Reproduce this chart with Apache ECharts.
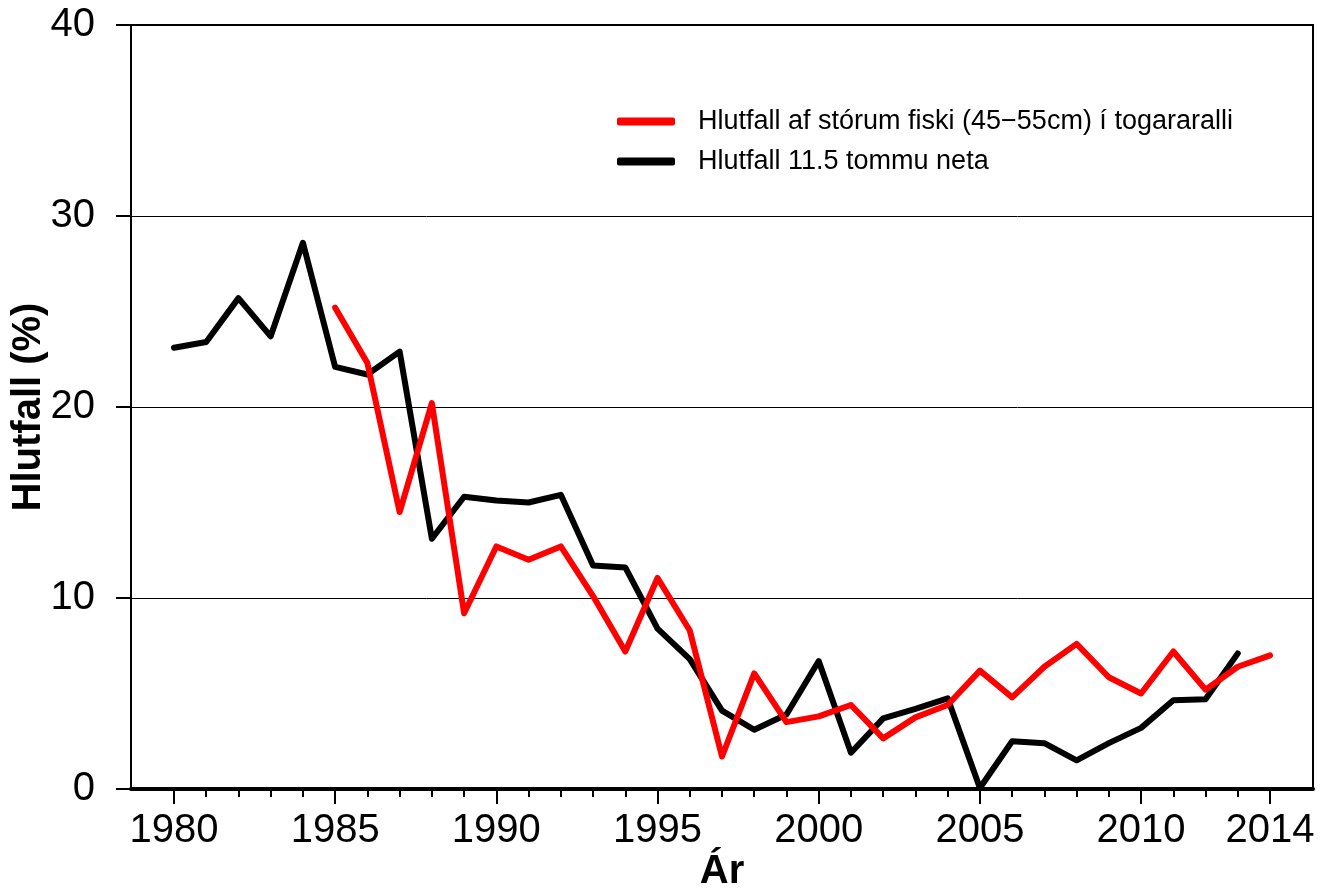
<!DOCTYPE html>
<html>
<head>
<meta charset="utf-8">
<script src="https://cdn.jsdelivr.net/npm/echarts@6/dist/echarts.min.js"></script>
<style>
html,body{margin:0;padding:0;background:#fff;}
#chart{width:1325px;height:890px;}
</style>
</head>
<body>
<div id="chart"></div>
<script>
var years = [1980,1981,1982,1983,1984,1985,1986,1987,1988,1989,1990,1991,1992,1993,1994,1995,1996,1997,1998,1999,2000,2001,2002,2003,2004,2005,2006,2007,2008,2009,2010,2011,2012,2013,2014];
var redValues = [null,null,null,null,null,25.2,22.3,14.5,20.2,9.2,12.7,12.0,12.7,10.1,7.2,11.05,8.3,1.7,6.05,3.5,3.8,4.4,2.65,3.75,4.4,6.2,4.8,6.4,7.6,5.85,5.0,7.2,5.2,6.4,7.0];
var blackValues = [23.1,23.4,25.7,23.7,28.6,22.1,21.7,22.9,13.1,15.3,15.1,15.0,15.4,11.7,11.6,8.4,6.8,4.1,3.1,3.9,6.7,1.9,3.7,4.2,4.75,0.05,2.5,2.4,1.5,2.4,3.2,4.65,4.7,7.1,null];
var majorYears = [1980,1985,1990,1995,2000,2005,2010,2014];
var yTicks = [0,10,20,30,40];
var redName = 'Hlutfall af stórum fiski (45\u221255cm) í togararalli';
var blackName = 'Hlutfall 11.5 tommu neta';

function pairs(vals){ return years.map(function(y,i){ return [y, vals[i]]; }); }

var chart = echarts.init(document.getElementById('chart'));
var font = 'Liberation Sans, Arial, Helvetica, sans-serif';
var xMin = 1978.667, xMax = 2015.333;
chart.setOption({
  animation:false,
  backgroundColor:'#fff',
  grid:{left:131,top:25,right:12,bottom:101,outerBoundsMode:'none',containLabel:false,show:true,borderColor:'#000',borderWidth:2,backgroundColor:'transparent'},
  legend:{
    orient:'vertical',left:612,top:103,itemWidth:58,itemHeight:8,itemGap:13,
    icon:'roundRect',
    textStyle:{fontFamily:font,fontSize:27,color:'#000',padding:[0,0,0,18]},
    data:[redName,blackName]
  },
  xAxis:[{
    type:'value',min:xMin,max:xMax,
    axisLine:{show:true,lineStyle:{color:'#000',width:4}},
    axisTick:{show:true,customValues:majorYears,length:15,lineStyle:{color:'#000',width:2}},
    axisLabel:{customValues:majorYears,fontFamily:font,fontSize:40,color:'#000',margin:22,formatter:function(v){return String(v);}},
    splitLine:{show:false},
    name:'Ár',nameLocation:'middle',nameGap:63,nameMoveOverlap:false,
    nameTextStyle:{fontFamily:font,fontSize:40,fontWeight:'bold',color:'#000'}
  },{
    type:'value',min:xMin,max:xMax,position:'bottom',
    axisLine:{show:false},
    axisTick:{show:true,customValues:years,length:8,lineStyle:{color:'#000',width:2}},
    axisLabel:{show:false},
    splitLine:{show:false}
  }],
  yAxis:{
    type:'value',min:0,max:40,interval:10,
    axisLine:{show:true,lineStyle:{color:'#000',width:2}},
    axisTick:{show:true,length:15,lineStyle:{color:'#000',width:2}},
    axisLabel:{customValues:yTicks,fontFamily:font,fontSize:40,color:'#000',margin:36},
    splitLine:{show:true,lineStyle:{color:'#000',width:1}},
    name:'Hlutfall (%)',nameLocation:'middle',nameGap:82,nameMoveOverlap:false,
    nameTextStyle:{fontFamily:font,fontSize:40,fontWeight:'bold',color:'#000'}
  },
  series:[{
    name:redName,type:'line',xAxisIndex:0,data:pairs(redValues),
    showSymbol:false,symbol:'none',connectNulls:false,
    lineStyle:{color:'#ff0000',width:6,cap:'round',join:'round'},
    itemStyle:{color:'#ff0000'},z:3
  },{
    name:blackName,type:'line',xAxisIndex:0,data:pairs(blackValues),
    showSymbol:false,symbol:'none',connectNulls:false,
    lineStyle:{color:'#000',width:6,cap:'round',join:'round'},
    itemStyle:{color:'#000'},z:2
  }]
});
</script>
</body>
</html>
